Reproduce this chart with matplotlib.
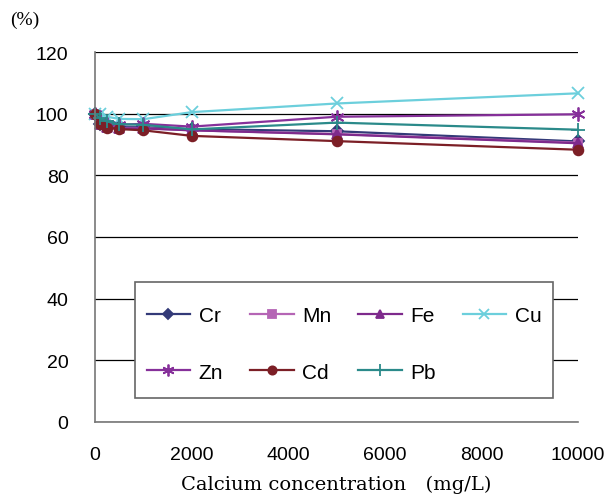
import matplotlib
matplotlib.use("Agg")
import matplotlib.pyplot as plt
from matplotlib.patches import Rectangle

conc = [0, 100, 250, 500, 1000, 2000, 5000, 10000]
Cr = [100, 96.8, 96.3, 95.6, 95.6, 95.0, 94.3, 91.0]
Mn = [100, 96.6, 96.0, 95.3, 95.3, 94.6, 93.4, 90.6]
Fe = [100, 96.5, 95.8, 95.2, 95.2, 94.6, 93.3, 90.4]
Cu = [100, 100.0, 99.0, 98.3, 98.2, 100.5, 103.3, 106.6]
Zn = [100, 97.5, 96.6, 96.4, 96.7, 95.8, 99.0, 99.8]
Cd = [100, 96.8, 95.5, 95.0, 94.6, 92.8, 91.1, 88.3]
Pb = [100, 98.5, 97.5, 96.6, 96.4, 94.9, 97.1, 94.8]

series = [
    ("Cr", Cr, "#333a78", "D", 6),
    ("Mn", Mn, "#b565b5", "s", 6),
    ("Fe", Fe, "#7e2a8c", "^", 7),
    ("Cu", Cu, "#6ccfdc", "x", 9),
    ("Zn", Zn, "#86309a", (6, 2, 0), 10),
    ("Cd", Cd, "#7c1f26", "o", 7),
    ("Pb", Pb, "#2b8a8a", "+", 10),
]

fig = plt.figure(figsize=(6.07, 5.02), dpi=100)
ax = fig.add_axes([95/607, 79/502, 483/607, 370/502])

lines = {}
for name, vals, col, mk, ms in series:
    ln, = ax.plot(conc, vals, color=col, marker=mk, markersize=ms, linewidth=1.6,
                  markeredgewidth=1.3, label=name, clip_on=False)
    lines[name] = ln

ax.set_xlim(0, 10000)
ax.set_ylim(0, 120)
ax.set_xticks([0, 2000, 4000, 6000, 8000, 10000])
ax.set_yticks([0, 20, 40, 60, 80, 100, 120])
ax.yaxis.grid(True, color="black", linewidth=0.9)
ax.set_axisbelow(True)
for s in ["top", "right"]:
    ax.spines[s].set_visible(False)
for s in ["left", "bottom"]:
    ax.spines[s].set_color("#777777")
    ax.spines[s].set_linewidth(1.2)
ax.tick_params(axis="x", labelsize=14, length=0, pad=17)
ax.tick_params(axis="y", labelsize=14, length=0, pad=19)
for lab in ax.get_xticklabels() + ax.get_yticklabels():
    lab.set_family("Liberation Sans")

ax.set_xlabel("Calcium concentration\u3000(mg/L)", fontsize=14,
              family=["DejaVu Serif", "Noto Sans CJK JP"], labelpad=9)
fig.text(10/607, 1 - 20/502, "(%)", fontsize=14, family="Liberation Serif",
         va="center", ha="left")

# legend frame drawn separately
ax.add_patch(Rectangle((0.083, 0.065), 0.865, 0.313, transform=ax.transAxes,
                       facecolor="white", edgecolor="#666666", linewidth=1.2,
                       zorder=4, clip_on=False))

# column-major ordering so rows read Cr Mn Fe Cu / Zn Cd Pb
order = ["Cr", "Zn", "Mn", "Cd", "Fe", "Pb", "Cu"]
leg = ax.legend([lines[n] for n in order], order, ncol=4, loc="center left",
                bbox_to_anchor=(0.083, 0.211, 0.865, 0.0), mode="expand",
                frameon=False,
                prop={"family": "Liberation Sans", "size": 15},
                borderaxespad=0, handlelength=2.1, handletextpad=0.4,
                columnspacing=1.0, labelspacing=1.8, borderpad=0.55,
                markerscale=0.85)
leg.set_zorder(5)

fig.savefig("out.png", dpi=100)
